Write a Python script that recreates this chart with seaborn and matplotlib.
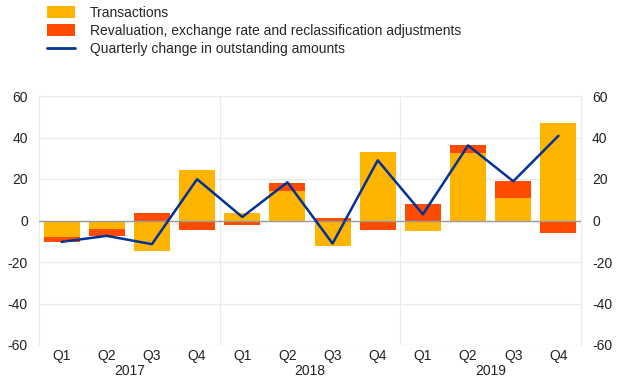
import matplotlib
matplotlib.use("Agg")
import matplotlib.pyplot as plt
import numpy as np
import pandas as pd
import seaborn as sns
from matplotlib.patches import Patch
from matplotlib.lines import Line2D

quarters = ["Q1", "Q2", "Q3", "Q4"] * 3
years = ["2017", "2018", "2019"]
transactions = [-8.1, -4.0, -14.8, 24.2, 3.7, 14.1, -12.1, 32.9, -5.2, 32.5, 10.7, 47.0]
revaluation = [-2.2, -3.5, 3.4, -4.4, -2.3, 4.0, 1.4, -4.4, 8.0, 3.7, 8.2, -6.1]
quarterly_change = [-10.3, -7.4, -11.4, 19.9, 1.7, 18.4, -11.1, 29.0, 3.0, 36.2, 18.9, 40.8]

YELLOW = "#FFB400"
RED = "#FF4B00"
BLUE = "#003299"
GRID = "#EBEBEB"

sns.set_style("white")
plt.rcParams["font.family"] = ["Liberation Sans", "DejaVu Sans"]
plt.rcParams["axes.unicode_minus"] = False

df = pd.DataFrame({
    "pos": np.arange(len(transactions)),
    "transactions": transactions,
    "revaluation": revaluation,
    "change": quarterly_change,
})
# revaluation stacks on top of transactions when both share a sign
same_sign = np.sign(df["transactions"]) == np.sign(df["revaluation"])
df["reval_bottom"] = np.where(same_sign, df["transactions"], 0.0)

fig = plt.figure(figsize=(6.2, 3.87), dpi=100)
ax = fig.add_axes([39 / 620, 1 - 345 / 387, 542 / 620, 249 / 387])

for y in range(-60, 61, 20):
    ax.axhline(y, color=GRID, lw=0.9, zorder=0)
for x in [3.5, 7.5]:
    ax.axvline(x, color=GRID, lw=0.9, zorder=0)

ax.bar(df["pos"], df["transactions"], width=0.8, color=YELLOW, linewidth=0, zorder=2)
ax.bar(df["pos"], df["revaluation"], bottom=df["reval_bottom"], width=0.8, color=RED,
       linewidth=0, zorder=2)
ax.axhline(0, color="#9A9A9A", lw=1.0, zorder=3)
sns.lineplot(data=df, x="pos", y="change", color=BLUE, lw=1.8, ax=ax, zorder=4)

ax.set_xlim(-0.5, 11.5)
ax.set_ylim(-60, 60)
ax.set_yticks(range(-60, 61, 20))
ax.set_xticks(df["pos"])
ax.set_xticklabels(quarters)
ax.set_xticks([-0.5, 3.5, 7.5, 11.5], minor=True)
ax.tick_params(axis="x", which="major", length=0, pad=3, labelsize=10, labelcolor="#222222")
ax.tick_params(axis="x", which="minor", length=7, width=0.9, color=GRID)
ax.tick_params(axis="y", length=0, pad=8, labelsize=10, labelcolor="#222222",
               labelleft=True, labelright=True)
ax.set_xlabel("")
ax.set_ylabel("")
for side in ["top", "bottom"]:
    ax.spines[side].set_visible(False)
for side in ["left", "right"]:
    ax.spines[side].set_color(GRID)
    ax.spines[side].set_linewidth(0.9)

for i, year in enumerate(years):
    ax.text(i * 4 + 1.5, -0.078, year, transform=ax.get_xaxis_transform(),
            ha="center", va="top", fontsize=10, color="#222222")

handles = [
    Patch(facecolor=YELLOW, edgecolor="none"),
    Patch(facecolor=RED, edgecolor="none"),
    Line2D([0], [0], color=BLUE, lw=2),
]
labels = [
    "Transactions",
    "Revaluation, exchange rate and reclassification adjustments",
    "Quarterly change in outstanding amounts",
]
fig.legend(handles, labels, loc="upper left", bbox_to_anchor=(47 / 620, 1 - 6 / 387),
           frameon=False, fontsize=10, handlelength=2.0, handleheight=0.95,
           handletextpad=1.1, labelspacing=0.3, borderaxespad=0, borderpad=0)

fig.savefig("out.png", dpi=100)
